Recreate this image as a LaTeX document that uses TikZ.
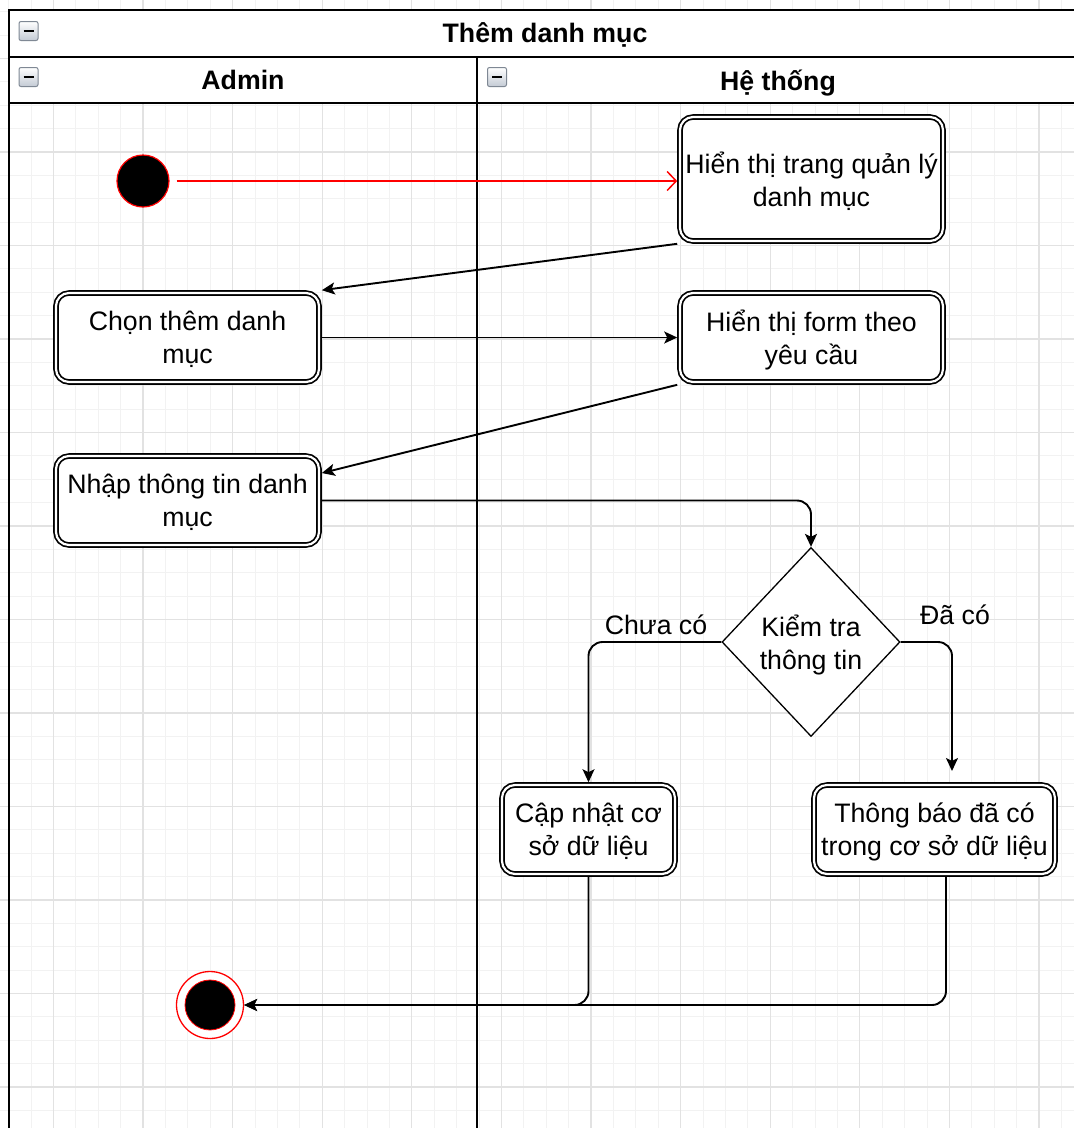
\documentclass[tikz,border=0pt]{standalone}
\usepackage{fontspec}
\setmainfont{Liberation Sans}
\usetikzlibrary{shapes.geometric,arrows.meta,calc}

\definecolor{gridminor}{HTML}{F2F2F2}
\definecolor{gridmajor}{HTML}{E2E2E2}
\definecolor{iconedge}{HTML}{7F8894}
\definecolor{iconfill}{HTML}{C3CAD4}

\newcommand\bodyfont{\fontsize{26.7pt}{33pt}\selectfont}
\newcommand\headfont{\fontsize{26.7pt}{33pt}\selectfont\bfseries}

\tikzset{
  actbox/.style={draw=black, double=white, double distance=2.2pt, line width=1.7pt,
    rounded corners=13pt, fill=white, align=center, font=\bodyfont,
    inner sep=0pt, outer sep=2.8pt, text depth=0pt},
  decision/.style={diamond, draw=black, line width=1.3pt, fill=white, align=center,
    font=\bodyfont, inner sep=0pt, minimum width=178pt, minimum height=189pt,
    text depth=0pt},
  flow/.style={draw=black, line width=1.9pt, -{Stealth[length=13pt,width=12pt,inset=3pt]}},
  startflow/.style={draw=red, line width=1.5pt, -{Straight Barb[length=9pt,width=19pt,line width=1.5pt]}},
  guard/.style={font=\bodyfont, inner sep=0pt},
  lanetitle/.style={font=\headfont, inner sep=0pt, text depth=0pt},
  lanetoggle/.pic={
    \draw[iconedge, line width=1pt, rounded corners=2pt, top color=white, bottom color=iconfill]
      (-9.5,-9.5) rectangle (9.5,9.5);
    \draw[black, line width=2.6pt] (-5,0) -- (5,0);
  }
}

\begin{document}
\begin{tikzpicture}[x=1pt, y=-1pt]
  \useasboundingbox (0,0) rectangle (1074,1128);
  \clip (0,0) rectangle (1074,1128);

  % background grid
  \foreach \i in {-3,...,46}
    \draw[gridminor, line width=1pt] ({53.4+22.4*\i},0) -- ++(0,1128);
  \foreach \j in {-3,...,46}
    \draw[gridminor, line width=1pt] (0,{58.5+23.375*\j}) -- ++(1074,0);
  \foreach \i in {-1,...,11}
    \draw[gridmajor, line width=1.3pt] ({53.4+89.6*\i},0) -- ++(0,1128);
  \foreach \j in {-1,...,11}
    \draw[gridmajor, line width=1.3pt] (0,{58.5+93.5*\j}) -- ++(1074,0);

  % swimlane frame
  \draw[fill=white, line width=2pt] (9,10) rectangle (1090,57);
  \draw[fill=white, line width=2pt] (9,57) rectangle (1090,103);
  \draw[line width=2pt] (9,10) -- (9,1140);
  \draw[line width=2pt] (477,57) -- (477,1140);

  \node[lanetitle] (pool) at (545,33) {Thêm danh mục};
  \node[lanetitle] (laneA) at (243,80) {Admin};
  \node[lanetitle] (laneB) at (778,80) {Hệ thống};
  \pic (togglePool) at (28.5,31) {lanetoggle};
  \pic (toggleA) at (28.5,77) {lanetoggle};
  \pic (toggleB) at (497,77) {lanetoggle};

  % activities
  \node[actbox, minimum width=263pt, minimum height=124pt] (showpage) at (811.5,179)
    {Hiển thị trang quản lý\\danh mục};
  \node[actbox, minimum width=263pt, minimum height=89pt] (choose) at (187.5,337.5)
    {Chọn thêm danh\\mục};
  \node[actbox, minimum width=263pt, minimum height=89pt] (showform) at (811.5,337.5)
    {Hiển thị form theo\\yêu cầu};
  \node[actbox, minimum width=263pt, minimum height=89pt] (enter) at (187.5,500.5)
    {Nhập thông tin danh\\mục};
  \node[decision] (check) at (811,642) {Kiểm tra\\thông tin};
  \node[actbox, minimum width=173pt, minimum height=89pt] (update) at (588.5,829.5)
    {Cập nhật cơ\\sở dữ liệu};
  \node[actbox, minimum width=241pt, minimum height=89pt] (notify) at (934.5,829.5)
    {Thông báo đã có\\trong cơ sở dữ liệu};

  % initial and final states
  \node[circle, fill=black, draw=red, line width=1.2pt, minimum size=52pt, inner sep=0pt]
    (start) at (143,181) {};
  \node[circle, fill=white, draw=red, line width=1.3pt, minimum size=67pt, inner sep=0pt]
    (stop) at (210,1005) {};
  \node[circle, fill=black, draw=red, line width=0.8pt, minimum size=50pt, inner sep=0pt]
    (stopdot) at (stop) {};

  \node[guard] (nolabel) at (656,625) {Chưa có};
  \node[guard] (yeslabel) at (955,615) {Đã có};
  \coordinate (existsEnd) at (952,771);

  % control flow
  \draw[startflow, shorten <=7pt] (start.east) -- (showpage.west |- start.east);
  \draw[flow] (showpage.south west) -- (choose.north east);
  \draw[flow] (choose) -- (showform);
  \draw[flow] (showform.south west) -- ($(enter.north east)!0.21!(enter.south east)$);
  \draw[flow, rounded corners=14pt] (enter.east) -| (check.north);
  \draw[flow, rounded corners=14pt] (check.west) -| (update.north);
  \draw[flow, rounded corners=14pt] (check.east) -| (existsEnd);
  \draw[flow, rounded corners=14pt] (update.south) |- (stop.east);
  \draw[flow, rounded corners=14pt] ($(notify.south)+(11.5,0)$) |- (stop.east);
\end{tikzpicture}
\end{document}
